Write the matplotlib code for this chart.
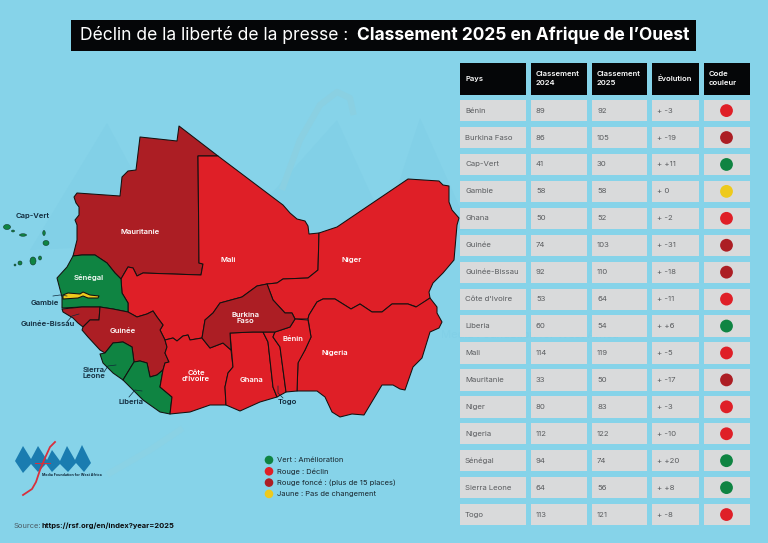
import matplotlib
matplotlib.use("Agg")
import matplotlib.pyplot as plt
from matplotlib.patches import Polygon, Rectangle, Circle, Ellipse

plt.rcParams["font.family"] = ["Inter", "DejaVu Sans"]

BG = "#86d3e9"
GREEN = "#0f8442"
RED = "#df1f27"
DARK = "#ac1e24"
YELLOW = "#eeca1c"
GREY = "#d9dadb"

# table data
pays = ["Bénin", "Burkina Faso", "Cap-Vert", "Gambie", "Ghana", "Guinée", "Guinée-Bissau",
        "Côte d'Ivoire", "Liberia", "Mali", "Mauritanie", "Niger", "Nigeria", "Sénégal",
        "Sierra Leone", "Togo"]
rang_2024 = [89, 86, 41, 58, 50, 74, 92, 53, 60, 114, 33, 80, 112, 94, 64, 113]
rang_2025 = [92, 105, 30, 58, 52, 103, 110, 64, 54, 119, 50, 83, 122, 74, 56, 121]
evolution = ["+ -3", "+ -19", "+ +11", "+ 0", "+ -2", "+ -31", "+ -18", "+ -11", "+ +6", "+ -5",
             "+ -17", "+ -3", "+ -10", "+ +20", "+ +8", "+ -8"]
code = [RED, DARK, GREEN, YELLOW, RED, DARK, DARK, RED, GREEN, RED, DARK, RED, RED, GREEN, GREEN, RED]
entetes = ["Pays", "Classement\n2024", "Classement\n2025", "Évolution", "Code\ncouleur"]

legende = [(GREEN, "Vert : Amélioration"), (RED, "Rouge : Déclin"),
           (DARK, "Rouge foncé : (plus de 15 places)"), (YELLOW, "Jaune : Pas de changement")]

# country outlines (pixels)
mauritanie = [(179, 126), (177, 141), (140, 137), (136, 170), (128, 171), (122, 177), (120, 196), (77, 193),
              (74, 197), (76, 203), (79, 207), (79, 215), (75, 220), (77, 225), (77, 240), (73, 256), (82, 255),
              (95, 255), (107, 263), (115, 273), (121, 279), (128, 267), (133, 268), (137, 276), (143, 273),
              (201, 275), (203, 264), (199, 263), (198, 156), (218, 156)]
mali = [(198, 156), (218, 156), (283, 205), (290, 213), (297, 219), (305, 221), (308, 226), (309, 234), (319, 233),
        (318, 270), (308, 278), (283, 279), (277, 283), (267, 284), (257, 286), (242, 297), (220, 303), (213, 313),
        (205, 320), (202, 338), (190, 340), (188, 335), (183, 336), (177, 341), (173, 338), (165, 340), (160, 330),
        (163, 325), (157, 317), (153, 311), (147, 314), (137, 317), (128, 312), (128, 303), (122, 293), (121, 279),
        (128, 267), (133, 268), (137, 276), (143, 273), (201, 275), (203, 264), (199, 263)]
senegal = [(73, 256), (82, 255), (95, 255), (107, 263), (115, 273), (121, 279), (122, 293), (128, 303), (128, 312),
           (113, 309), (100, 307), (82, 307), (62, 308), (62, 297), (57, 278), (67, 267)]
gambie = [(63, 295), (68, 293), (80, 294), (83, 292), (90, 295), (99, 296), (98, 298), (88, 298), (83, 296),
          (78, 298), (63, 299)]
guinee_bissau = [(62, 309), (82, 307), (100, 307), (99, 320), (90, 320), (83, 327), (78, 323), (73, 318), (63, 312)]
guinee = [(100, 307), (113, 309), (128, 312), (137, 317), (147, 314), (153, 311), (157, 317), (163, 325), (160, 330),
          (165, 340), (167, 347), (165, 353), (169, 362), (165, 363), (163, 370), (157, 375), (150, 377), (147, 363),
          (140, 361), (134, 362), (132, 347), (123, 342), (113, 343), (105, 353), (100, 350), (88, 337), (82, 330),
          (83, 327), (90, 320), (99, 320)]
sierra_leone = [(100, 354), (105, 353), (113, 343), (123, 342), (132, 347), (134, 362), (123, 380), (113, 373),
                (103, 363)]
liberia = [(123, 380), (134, 362), (140, 361), (147, 363), (150, 377), (157, 375), (163, 370), (160, 387), (172, 397),
           (170, 414), (160, 412), (143, 400)]
cote_ivoire = [(165, 340), (173, 338), (177, 341), (183, 336), (188, 335), (190, 340), (202, 338), (210, 348),
               (223, 343), (231, 350), (233, 367), (228, 373), (225, 387), (226, 405), (210, 405), (190, 412),
               (170, 414), (172, 397), (160, 387), (163, 370), (165, 363), (169, 362), (165, 353), (167, 347)]
burkina = [(267, 284), (273, 300), (285, 313), (292, 313), (295, 319), (290, 327), (275, 332), (263, 332), (253, 332),
           (230, 333), (231, 350), (223, 343), (210, 348), (202, 338), (205, 320), (213, 313), (220, 303), (242, 297),
           (257, 286)]
ghana = [(230, 333), (233, 367), (228, 373), (225, 387), (226, 405), (240, 411), (260, 402), (277, 397), (273, 387),
         (268, 342), (263, 332), (253, 332)]
togo = [(263, 332), (275, 332), (273, 337), (280, 347), (286, 392), (277, 397), (273, 387), (268, 342)]
benin = [(275, 332), (290, 327), (295, 319), (308, 320), (311, 337), (305, 350), (298, 363), (297, 391), (286, 392),
         (280, 347), (273, 337)]
niger = [(319, 233), (337, 227), (408, 179), (439, 181), (443, 185), (449, 186), (449, 202), (452, 210), (459, 218),
         (457, 225), (454, 260), (443, 273), (433, 283), (429, 292), (430, 298), (417, 307), (408, 304), (392, 304),
         (382, 312), (372, 312), (360, 304), (351, 309), (335, 299), (323, 299), (317, 302), (309, 315), (308, 319),
         (295, 319), (292, 313), (285, 313), (273, 300), (267, 284), (277, 283), (283, 279), (308, 278), (318, 270)]
nigeria = [(308, 319), (309, 315), (317, 302), (323, 299), (335, 299), (351, 309), (360, 304), (372, 312), (382, 312),
           (392, 304), (408, 304), (416, 307), (430, 298), (437, 307), (437, 313), (442, 322), (439, 328), (430, 332),
           (422, 358), (413, 367), (405, 390), (400, 389), (393, 385), (382, 385), (370, 405), (364, 415), (352, 414),
           (340, 417), (332, 412), (325, 397), (317, 391), (297, 391), (298, 362), (305, 350), (311, 337)]
pays_carte = [(mauritanie, DARK), (mali, RED), (niger, RED), (nigeria, RED), (senegal, GREEN), (gambie, YELLOW),
              (guinee_bissau, DARK), (guinee, DARK), (sierra_leone, GREEN), (liberia, GREEN), (cote_ivoire, RED),
              (ghana, RED), (togo, RED), (benin, RED), (burkina, DARK)]
iles = [(7, 227, 7, 5), (13, 231, 3, 2), (23, 235, 7, 2.5), (44, 233, 2.5, 5), (46, 243, 6, 5), (33, 261, 6, 8),
        (40, 258, 3, 4), (20, 263, 4, 4), (15, 265, 2, 2)]

noms_blancs = [("Mauritanie", 140, 232), ("Mali", 228, 260), ("Niger", 352, 260), ("Sénégal", 89, 278),
               ("Guinée", 123, 331), ("Burkina\nFaso", 245, 318), ("Bénin", 293, 339), ("Nigeria", 335, 353),
               ("Ghana", 251, 380), ("Côte\nd'Ivoire", 196, 376)]
noms_noirs = [("Cap-Vert", 33, 216), ("Gambie", 45, 303), ("Guinée-Bissau", 48, 324), ("Sierra\nLeone", 94, 373),
              ("Liberia", 131, 402), ("Togo", 287, 402)]
traits = [[(53, 296), (60, 295), (67, 296)], [(67, 322), (72, 316), (79, 314)], [(104, 372), (108, 366), (116, 365)],
          [(129, 397), (135, 390), (142, 391)], [(283, 398), (278, 393), (278, 386)]]

fond_montagnes = [(30, 250), (107, 123), (170, 240), (230, 240), (337, 120), (385, 225), (420, 118), (470, 230)]
logo_bleu = [(15, 461), (23, 446), (31, 459), (38, 446), (47, 460), (52, 450), (60, 461), (67, 446), (75, 460),
             (82, 445), (91, 463), (84, 472), (76, 463), (68, 472), (60, 464), (52, 472), (46, 464), (38, 472),
             (31, 464), (23, 473)]
logo_f = [(55, 442), (50, 447), (45, 458), (40, 470), (36, 482), (32, 489), (23, 495)]

fig = plt.figure(figsize=(7.68, 5.43), dpi=100, facecolor=BG)
ax = fig.add_axes([0, 0, 1, 1])
ax.set_xlim(0, 768)
ax.set_ylim(543, 0)
ax.axis("off")

# faint watermark behind the map
ax.add_patch(Polygon(fond_montagnes, closed=True, fc="#82d0e7", ec="none", zorder=1))
ax.plot([283, 300, 320, 337, 350, 353], [187, 140, 105, 92, 98, 112], color="#8ad0e2", lw=4.5, zorder=1)
ax.plot([180, 150, 110], [430, 450, 473], color="#8ad2e5", lw=4.5, zorder=1)
ax.text(530, 335, "Media Foundation for West Africa", color="#82d0e7", fontsize=8, ha="center", va="center", zorder=1)

# title
ax.add_patch(Rectangle((71, 20), 625, 31, fc="#050608", ec="none", zorder=2))
ax.text(80, 35.5, "Déclin de la liberté de la presse : ", color="white", fontsize=12.6, va="center", zorder=3)
ax.text(357, 35.5, "Classement 2025 en Afrique de l’Ouest", color="white", fontsize=12.5, fontweight="bold",
        va="center", zorder=3)

# map
for contour, couleur in pays_carte:
    ax.add_patch(Polygon(contour, closed=True, fc=couleur, ec="#14100f", lw=0.75, joinstyle="round", zorder=4))
for x, y, w, h in iles:
    ax.add_patch(Ellipse((x, y), w, h, fc=GREEN, ec="#12392c", lw=0.4, zorder=4))
for nom, x, y in noms_blancs:
    ax.text(x, y, nom, color="white", fontsize=5.5, fontweight=600, ha="center", va="center", linespacing=1.0, zorder=6)
for nom, x, y in noms_noirs:
    ax.text(x, y, nom, color="#10283a", fontsize=5.5, fontweight=600, ha="center", va="center", linespacing=1.0, zorder=6)
for t in traits:
    ax.plot([p[0] for p in t], [p[1] for p in t], color="#10283a", lw=0.5, zorder=6)

# table
col_x = [460, 531, 592, 652, 704]
col_w = [66, 56, 55, 47, 46]
for x, w, titre in zip(col_x, col_w, entetes):
    ax.add_patch(Rectangle((x, 63), w, 31.5, fc="#050608", ec="none", zorder=5))
    ax.text(x + 5, 78.5, titre, color="white", fontsize=5.5, fontweight=600, va="center", linespacing=1.5, zorder=6)
for i, nom in enumerate(pays):
    y = 100 + i * 26.93
    for x, w in zip(col_x, col_w):
        ax.add_patch(Rectangle((x, y), w, 21.3, fc=GREY, ec="none", zorder=5))
    valeurs = [nom, rang_2024[i], rang_2025[i], evolution[i]]
    for x, v in zip(col_x, valeurs):
        ax.text(x + 5, y + 10.6, str(v), color="#5a5c5f", fontsize=5.6, va="center", zorder=6)
    ax.add_patch(Circle((726.5, y + 10.6), 6.4, fc=code[i], ec="none", zorder=6))

# legend
for i, (couleur, texte) in enumerate(legende):
    y = 460 + i * 11.3
    ax.add_patch(Circle((269, y), 4.3, fc=couleur, ec="none", zorder=5))
    ax.text(277, y, texte, color="#17242c", fontsize=5.45, va="center", zorder=6)

# logo and source
ax.add_patch(Polygon(logo_bleu, closed=True, fc="#1a7cb0", ec="none", zorder=5))
ax.plot([p[0] for p in logo_f], [p[1] for p in logo_f], color="#d8303c", lw=1.3, zorder=6)
ax.plot([35, 50], [463, 463], color="#d8303c", lw=0.7, zorder=6)
ax.text(42, 475, "Media Foundation for West Africa", color="#10283a", fontsize=2.6, fontweight="bold", va="center", zorder=6)

ax.text(14, 525.5, "Source:", color="#4b5a63", fontsize=5.4, va="center", zorder=6)
ax.text(42, 525.5, "https://rsf.org/en/index?year=2025", color="#0b0b0d", fontsize=5.4, fontweight="bold", va="center", zorder=6)

fig.savefig("out.png", dpi=100, facecolor=BG)
